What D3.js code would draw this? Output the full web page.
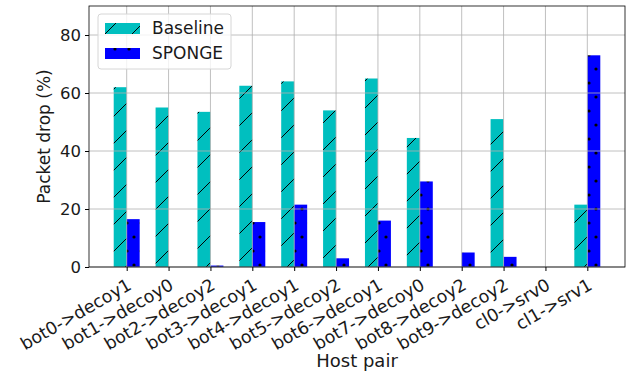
<!DOCTYPE html>
<html>
<head>
<meta charset="utf-8">
<script src="https://cdn.jsdelivr.net/npm/d3@7"></script>
<style>
  body { margin: 0; background: #fff; }
  text { font-family: "DejaVu Sans", sans-serif; fill: #1a1a1a; }
</style>
</head>
<body>
<svg id="chart" width="636" height="374"></svg>
<script>
const hostPairs = ['bot0->decoy1', 'bot1->decoy0', 'bot2->decoy2', 'bot3->decoy1',
    'bot4->decoy1', 'bot5->decoy2', 'bot6->decoy1', 'bot7->decoy0',
    'bot8->decoy2', 'bot9->decoy2', 'cl0->srv0', 'cl1->srv1'];
const baseline = [62, 55, 53.5, 62.5, 64, 54, 65, 44.5, 0, 51, 0, 21.5];
const sponge = [16.5, 0, 0.5, 15.5, 21.5, 3, 16, 29.5, 5, 3.5, 0, 73];
const yTicks = [0, 20, 40, 60, 80];

const W = 636, H = 374;
const margin = { left: 89, right: 11, top: 6, bottom: 107 };
const BAR_W = 0.31;

const svg = d3.select('#chart');
const innerW = W - margin.left - margin.right;
const innerH = H - margin.top - margin.bottom;

// hatch patterns
const defs = svg.append('defs');
const HS = 27;
const hatch = defs.append('pattern')
    .attr('id', 'hatch-slash')
    .attr('patternUnits', 'userSpaceOnUse')
    .attr('width', HS).attr('height', HS);
hatch.append('rect').attr('width', HS).attr('height', HS).attr('fill', '#00bfbf');
hatch.append('path')
    .attr('d', `M0,${HS} L${HS},0 M-3,3 L3,-3 M${HS - 3},${HS + 3} L${HS + 3},${HS - 3}`)
    .attr('stroke', '#000').attr('stroke-width', 1);

const dots = defs.append('pattern')
    .attr('id', 'hatch-dots')
    .attr('patternUnits', 'userSpaceOnUse')
    .attr('width', 14).attr('height', 28);
dots.append('rect').attr('width', 14).attr('height', 28).attr('fill', '#0000ff');
dots.append('circle').attr('cx', 3).attr('cy', 7).attr('r', 1.6).attr('fill', '#000');
dots.append('circle').attr('cx', 10).attr('cy', 21).attr('r', 1.6).attr('fill', '#000');

const g = svg.append('g').attr('transform', `translate(${margin.left},${margin.top})`);

const x = d3.scaleLinear().domain([-0.9, hostPairs.length - 1 + 0.9]).range([0, innerW]);
const y = d3.scaleLinear().domain([0, 90]).range([innerH, 0]);

// bars
g.selectAll('.bar-base')
    .data(baseline)
    .join('rect')
    .attr('class', 'bar-base')
    .attr('x', (d, i) => x(i - BAR_W))
    .attr('width', x(BAR_W) - x(0))
    .attr('y', d => y(d))
    .attr('height', d => y(0) - y(d))
    .attr('fill', 'url(#hatch-slash)');

g.selectAll('.bar-sponge')
    .data(sponge)
    .join('rect')
    .attr('class', 'bar-sponge')
    .attr('x', (d, i) => x(i))
    .attr('width', x(BAR_W) - x(0))
    .attr('y', d => y(d))
    .attr('height', d => y(0) - y(d))
    .attr('fill', 'url(#hatch-dots)');

// grid (drawn over bars, like matplotlib default)
g.append('g')
    .selectAll('line')
    .data(yTicks)
    .join('line')
    .attr('x1', 0).attr('x2', innerW)
    .attr('y1', d => y(d)).attr('y2', d => y(d))
    .attr('stroke', '#b0b0b0').attr('stroke-width', 0.8);
g.append('g')
    .selectAll('line')
    .data(hostPairs.map((d, i) => i))
    .join('line')
    .attr('y1', 0).attr('y2', innerH)
    .attr('x1', d => x(d)).attr('x2', d => x(d))
    .attr('stroke', '#b0b0b0').attr('stroke-width', 0.8);

// axes
const yAxis = g.append('g')
    .call(d3.axisLeft(y).tickValues(yTicks).tickSize(4).tickPadding(4));
yAxis.select('.domain').remove();
yAxis.selectAll('text').attr('font-size', 16.5).attr('fill', '#1a1a1a');

const xAxis = g.append('g')
    .attr('transform', `translate(0,${innerH})`)
    .call(d3.axisBottom(x).tickValues(hostPairs.map((d, i) => i))
        .tickFormat(i => hostPairs[i]).tickSize(4));
xAxis.select('.domain').remove();
xAxis.selectAll('text')
    .attr('font-size', 17.5)
    .attr('fill', '#1a1a1a')
    .attr('text-anchor', 'end')
    .attr('dy', '0.35em')
    .attr('transform', 'translate(-1,10) rotate(-30)');

// frame
g.append('rect')
    .attr('width', innerW).attr('height', innerH)
    .attr('fill', 'none').attr('stroke', '#000').attr('stroke-width', 0.8);

// axis labels
svg.append('text')
    .attr('transform', `translate(50,${margin.top + innerH / 2}) rotate(-90)`)
    .attr('text-anchor', 'middle')
    .attr('font-size', 17)
    .text('Packet drop (%)');
svg.append('text')
    .attr('x', margin.left + innerW / 2)
    .attr('y', 367)
    .attr('text-anchor', 'middle')
    .attr('font-size', 18)
    .text('Host pair');

// legend
const legend = svg.append('g').attr('transform', 'translate(98,14)');
legend.append('rect')
    .attr('width', 133).attr('height', 55).attr('rx', 3)
    .attr('fill', '#fff').attr('fill-opacity', 0.8)
    .attr('stroke', '#d6d6d6').attr('stroke-width', 1);
const items = [
    { name: 'Baseline', fill: 'url(#hatch-slash)' },
    { name: 'SPONGE', fill: 'url(#hatch-dots)' },
];
items.forEach((it, i) => {
    legend.append('rect')
        .attr('x', 7).attr('y', 9 + i * 25)
        .attr('width', 35).attr('height', 11)
        .attr('fill', it.fill);
    legend.append('text')
        .attr('x', 54).attr('y', 20 + i * 25)
        .attr('font-size', 17)
        .text(it.name);
});
</script>
</body>
</html>
